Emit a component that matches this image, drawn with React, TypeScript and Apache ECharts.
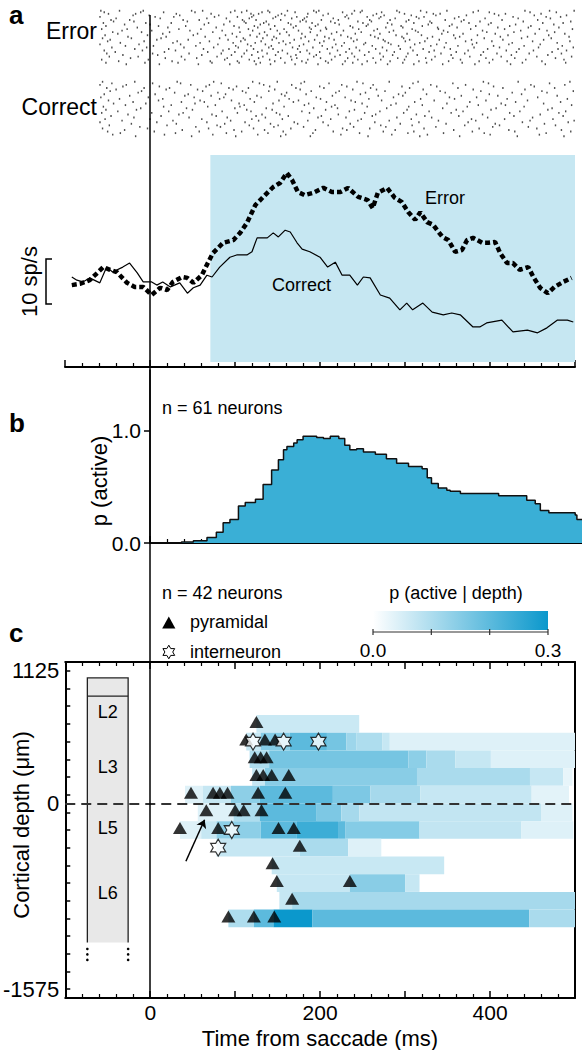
import React, { useEffect, useRef } from "react";
import * as echarts from "echarts";

const FONT = '"Liberation Sans", Arial, Helvetica, sans-serif';

// ---- Panel a: rasters (spike times in ms, one row per trial) ----
const errorTrials: number[][] = [
  [-59,-55,-37,-12,-9,15,48,52,61,94,99,107,113,131,138,140,161,170,192,195,198,226,240,247,249,272,290,293,318,325,349,380,386,399,441,447,470,478,499],
  [-50,-21,-18,-2,30,34,71,80,118,121,127,150,154,158,185,203,209,231,237,262,266,275,299,307,333,336,341,372,405,410,418,452,460,490],
  [-60,-41,5,11,27,66,75,89,102,116,119,144,147,166,172,181,184,215,229,233,255,269,271,288,313,316,322,358,363,394,427,433,466,471,483],
  [-47,-44,-25,-20,38,43,57,93,108,110,124,136,153,176,179,183,201,212,221,244,258,260,282,301,304,329,347,366,369,388,414,439,456,495],
  [-56,-31,-6,-1,24,63,68,86,112,129,133,139,162,165,190,197,217,222,250,256,279,284,310,327,331,355,375,398,401,430,462,475,486],
  [-53,-16,9,20,41,77,98,104,122,126,146,168,171,187,194,206,235,238,254,277,295,297,320,338,352,361,383,409,423,445,448,481],
  [-58,-34,-28,1,33,46,59,84,115,120,141,149,157,174,189,200,207,227,245,263,267,286,308,312,339,345,377,391,417,436,458,467,497],
  [-45,-39,-11,14,22,55,73,96,105,128,134,152,160,178,188,213,219,241,248,270,281,302,315,343,350,368,396,406,428,453,476,488],
  [-54,-27,-4,18,50,64,88,101,117,125,137,145,163,182,196,205,224,232,259,264,289,296,319,332,357,364,385,412,421,444,469,493],
  [-57,-48,-23,7,12,44,81,91,109,111,132,143,148,169,177,193,210,216,236,243,268,274,298,305,326,340,359,378,393,415,437,463,472],
  [-51,-36,-8,26,31,58,69,97,106,123,130,151,156,164,186,199,204,228,239,253,276,280,300,317,323,348,371,384,402,426,450,479,494],
  [-60,-30,-14,3,35,53,79,100,114,118,135,142,159,175,180,202,218,225,251,261,283,292,311,330,337,362,379,404,422,440,459,485],
  [-46,-19,-5,21,39,62,74,92,103,121,139,144,167,173,191,208,214,234,242,265,273,294,306,321,346,353,381,397,411,434,457,480,498],
  [-55,-42,-10,16,29,67,85,99,113,126,131,150,155,176,184,199,220,230,246,257,278,287,309,328,334,360,374,392,419,431,451,473,490],
  [-52,-33,2,8,45,60,83,95,110,119,137,147,161,171,187,195,211,223,237,252,270,285,303,314,342,354,370,389,408,425,446,468,484],
  [-49,-24,-15,17,36,54,78,90,107,127,132,153,165,172,192,200,217,232,240,262,274,291,301,324,335,356,376,395,413,429,455,477,496],
  [-58,-38,-3,25,40,70,87,102,116,122,140,146,166,178,185,206,213,229,244,255,271,282,299,316,331,351,365,387,403,420,442,461,487],
  [-53,-29,-7,10,32,56,72,93,104,124,129,141,158,170,183,197,209,226,238,249,265,279,297,310,325,344,367,382,399,424,438,465,489],
];
const correctTrials: number[][] = [
  [-57,-46,-19,2,31,35,74,83,120,128,149,177,181,210,243,250,281,309,315,356,392,398,433,470,494],
  [-60,-33,-29,10,47,65,69,101,133,140,166,199,225,231,262,296,330,337,371,404,448,452,488],
  [-52,-41,-8,18,22,55,92,97,115,146,171,176,204,238,259,266,305,321,362,380,415,441,476],
  [-48,-15,-11,28,61,79,108,112,139,160,189,218,222,253,276,300,341,347,389,426,461,467,498],
  [-55,-25,5,40,44,71,88,125,154,158,183,214,247,268,292,297,325,366,399,409,437,479],
  [-59,-37,-3,14,51,81,86,117,130,163,195,200,229,257,286,318,352,358,384,420,456,491],
  [-50,-21,9,36,58,63,95,122,151,168,174,207,236,241,272,311,334,376,395,430,444,483],
  [-44,-30,-6,24,52,76,104,110,144,181,186,217,249,283,289,320,349,386,413,418,463,496],
  [-56,-12,15,42,67,99,105,136,157,192,213,220,255,278,304,344,373,407,440,473],
  [-53,-39,-17,21,49,84,113,118,143,178,206,234,240,270,302,328,360,368,401,435,468,489],
  [-58,-27,1,33,38,72,102,131,148,152,187,221,252,265,298,313,354,391,423,459,481],
  [-47,-20,12,45,77,90,124,135,162,197,201,230,261,290,323,331,363,397,428,450,486],
  [-54,-34,-1,26,60,94,119,127,155,185,212,244,248,281,307,339,378,383,417,447,474,499],
  [-60,-23,7,30,66,87,111,141,169,173,203,235,264,294,316,348,374,406,438,464,492],
  [-49,-13,19,53,78,82,116,145,150,180,209,239,271,277,308,336,370,403,411,445,477],
  [-57,-31,-4,37,68,98,121,134,165,194,226,231,258,288,322,357,387,422,455,484],
  [-51,-36,4,29,57,89,107,138,156,191,215,246,274,303,310,345,379,393,429,466,495],
  [-45,-18,16,48,73,100,126,153,159,188,224,256,284,317,326,364,400,432,458,487],
];

// ---- Panel a: PSTH (time ms, rate sp/s) ----
const errorPsth = [
  [-92,18.2],[-82,18.5],[-71,19.3],[-62,20.9],[-55,22.2],[-47,21.6],[-39,21.1],[-27,18.7],[-18,17.8],[-8,17.8],
  [2,16.0],[12,17.6],[20,17.1],[27,18.9],[38,20.0],[44,19.8],[51,18.7],[61,20.4],[68,23.1],[74,25.3],
  [86,27.6],[98,28.2],[106,29.8],[114,32.0],[124,36.0],[138,38.7],[145,40.0],[153,40.9],[161,43.1],[167,41.6],
  [174,38.9],[182,38.2],[192,38.7],[204,39.8],[214,38.9],[224,38.9],[233,39.8],[245,37.8],[256,37.1],[262,35.3],
  [268,38.7],[279,39.8],[288,37.6],[296,36.7],[304,34.4],[312,32.7],[318,34.4],[326,32.2],[333,31.6],[344,28.9],
  [351,28.2],[359,25.6],[367,26.0],[373,28.2],[380,28.7],[391,27.6],[398,27.6],[406,27.8],[412,25.3],[420,23.1],
  [427,23.1],[435,21.6],[445,22.2],[451,20.0],[459,17.6],[468,16.4],[476,17.8],[486,18.9],[496,19.8],
];
const correctPsth = [
  [-92,20.0],[-86,19.3],[-79,18.9],[-71,19.8],[-59,18.7],[-51,22.2],[-44,21.1],[-32,22.2],[-24,23.1],[-15,20.9],
  [-8,18.9],[2,18.9],[8,18.2],[15,18.9],[24,17.8],[35,18.7],[44,16.4],[51,17.6],[59,18.2],[67,20.4],
  [73,20.0],[82,22.2],[94,24.4],[102,24.9],[114,24.9],[120,25.6],[126,28.7],[138,28.7],[145,29.8],[151,28.9],
  [159,30.4],[165,30.0],[173,27.6],[179,26.2],[188,25.6],[200,24.4],[209,22.2],[218,23.3],[226,20.4],[235,20.4],
  [244,18.2],[251,20.0],[259,19.8],[271,16.0],[282,15.3],[294,12.7],[302,14.2],[309,12.7],[321,14.2],[332,12.2],
  [345,11.6],[355,12.0],[365,11.6],[380,8.9],[388,8.9],[396,9.8],[414,10.4],[427,7.8],[444,8.2],[456,7.6],
  [467,8.7],[479,10.4],[491,10.4],[498,10.0],
];
const shadeWindow = [71, 500];
const scaleBar = [14, 24];

// ---- Panel b: p(active) ----
const pActive = [
  [0,0],[37,0],[37,0.01],[51,0.02],[67,0.05],[78,0.095],[86,0.18],[94,0.21],[104,0.33],[112,0.36],
  [124,0.39],[133,0.52],[143,0.65],[151,0.74],[157,0.83],[161,0.86],[169,0.89],[173,0.92],[180,0.95],[196,0.94],
  [204,0.93],[212,0.95],[222,0.93],[229,0.87],[235,0.83],[243,0.84],[251,0.81],[265,0.79],[278,0.75],[290,0.71],
  [304,0.68],[320,0.66],[326,0.58],[331,0.53],[339,0.49],[349,0.47],[353,0.46],[365,0.44],[408,0.44],[410,0.42],
  [437,0.42],[443,0.38],[453,0.35],[459,0.29],[469,0.27],[494,0.27],[500,0.25],[502,0.21],[508,0.21],
];

// ---- Panel c: p(active | depth) segments [tStart, tEnd, depthCenter, value] ----
const heatSegments = [
  [125,246,675,0.065],
  [113,130,525,0.07],[130,164,525,0.15],[164,208,525,0.2],[208,231,525,0.17],[231,243,525,0.12],[243,273,525,0.1],[273,282,525,0.07],[282,500,525,0.04],
  [117,140,375,0.1],[140,304,375,0.168],[304,325,375,0.14],[325,359,375,0.105],[359,401,375,0.07],[401,500,375,0.04],
  [120,135,225,0.07],[135,314,225,0.145],[314,447,225,0.105],[447,486,225,0.07],[486,497,225,0.03],
  [41,62,75,0.04],[62,95,75,0.07],[95,129,75,0.14],[129,215,75,0.2],[215,259,75,0.16],[259,318,75,0.11],[318,449,75,0.07],[449,493,75,0.035],
  [56,98,-75,0.04],[98,129,-75,0.1],[129,196,-75,0.2],[196,225,-75,0.16],[225,246,-75,0.11],[246,460,-75,0.075],[460,497,-75,0.04],
  [35,60,-225,0.04],[60,78,-225,0.07],[78,130,-225,0.14],[130,172,-225,0.2],[172,222,-225,0.24],[222,230,-225,0.2],[230,317,-225,0.15],[317,437,-225,0.075],[437,498,-225,0.04],
  [78,176,-375,0.07],[176,233,-375,0.105],[233,272,-375,0.04],
  [143,346,-525,0.068],
  [149,235,-675,0.07],[235,300,-675,0.145],[300,317,-675,0.07],
  [152,167,-825,0.07],[167,500,-825,0.11],
  [92,122,-975,0.1],[122,145,-975,0.2],[145,191,-975,0.3],[191,446,-975,0.2],[446,500,-975,0.105],
];
const binHalf = 75;
const pyramidal = [
  [125,675],[113,525],[135,525],[147,525],[123,375],[130,375],[137,375],[125,225],[133,225],[143,225],[163,225],
  [48,75],[74,75],[82,75],[91,75],[127,75],[159,75],[66,-75],[100,-75],[110,-75],[131,-75],
  [35,-225],[80,-225],[151,-225],[169,-225],[176,-375],[144,-525],[149,-675],[235,-675],[167,-825],
  [92,-975],[122,-975],[146,-975],
];
const interneuron = [[121,525],[157,525],[198,525],[96,-225],[80,-375]];
const arrowPath = [[42,-490],[64,-138]];
const depthTicks = [-1575,-1425,-1275,-1125,-975,-825,-675,-525,-375,-225,-75,75,225,375,525,675,825,975,1125];
const depthLabels = [1125, 0, -1575];
const timeLabels = [0, 200, 400];
const layerBoxTime = [-74, -26];
const layerBounds = [1065, 911, -1180];
const layerNames = ["L2", "L3", "L5", "L6"];
const layerLabelDepths = [776, 310, -208, -759];
const layerDotDepths = [-1234, -1280, -1327];
const colorbarTicks = [0, 0.1, 0.2, 0.3];
const colorbarLabels = ["0.0", "0.3"];

const STAR = "path://M10,0L12.885,5L18.66,5L15.77,10L18.66,15L12.885,15L10,20L7.115,15L1.34,15L4.23,10L1.34,5L7.115,5Z";
const starPts = [[0,-10],[2.885,-5],[8.66,-5],[5.77,0],[8.66,5],[2.885,5],[0,10],[-2.885,5],[-8.66,5],[-5.77,0],[-8.66,-5],[-2.885,-5]];
const HEAT_MAX_COLOR = "#0b98cc";

function timeAxis(grid: number, min: number, max: number, extra: any = {}) {
  return {
    type: "value", gridIndex: grid, min, max, interval: 100,
    axisLine: { show: true, onZero: false, lineStyle: { color: "#000", width: 2 } },
    axisTick: { show: true, inside: true, length: 7, lineStyle: { color: "#000", width: 1.5 } },
    minorTick: { show: true, splitNumber: 5, length: 4, lineStyle: { color: "#000", width: 1.2 } },
    axisLabel: { show: false },
    splitLine: { show: false }, minorSplitLine: { show: false },
    ...extra,
  };
}

// two interleaved display rows per trial (alternate spikes), as in a dense raster
function rasterPoints(trials: number[][]) {
  return trials.flatMap((row, i) => row.map((t, j) => [t, 2 * i + (j % 2) + 0.5]));
}

export default function App() {
  const ref = useRef<HTMLDivElement>(null);
  useEffect(() => {
    document.body.style.margin = "0";
    const chart = echarts.init(ref.current!, null, { renderer: "svg" });
    const hidden = (grid: number, min: number, max: number, inverse = false) => ({
      type: "value", gridIndex: grid, min, max, inverse, show: false,
    });
    const option: any = {
      animation: false,
      grid: [
        { left: 100, top: 10, width: 475, height: 55 },
        { left: 100, top: 81, width: 475, height: 56 },
        { left: 65, top: 155, width: 510, height: 212 },
        { left: 150, top: 370, width: 432, height: 173 },
        { left: 65, top: 662, width: 510, height: 336 },
      ],
      xAxis: [
        hidden(0, -60, 500),
        hidden(1, -60, 500),
        timeAxis(2, -100, 500),
        timeAxis(3, 0, 508),
        timeAxis(4, -100, 500, {
          position: "bottom",
          axisLabel: { show: true, customValues: timeLabels, formatter: (v: number) => String(v), align: "center", fontSize: 21, color: "#000", fontFamily: FONT, margin: 4 },
        }),
        timeAxis(4, -100, 500, { position: "top" }),
      ],
      yAxis: [
        hidden(0, 0, 36, true),
        hidden(1, 0, 36, true),
        hidden(2, 0, 47.11),
        {
          type: "value", gridIndex: 3, min: 0, max: 1.54,
          axisLine: { show: true, onZero: false, lineStyle: { color: "#000", width: 1.5 } },
          axisTick: { show: true, inside: false, length: 6, customValues: [0, 1], lineStyle: { color: "#000", width: 1.5 } },
          axisLabel: { show: true, customValues: [0, 1], formatter: (v: number) => v.toFixed(1), fontSize: 21, color: "#000", fontFamily: FONT, margin: 9 },
          splitLine: { show: false },
        },
        {
          type: "value", gridIndex: 4, min: -1650, max: 1200, position: "left",
          axisLine: { show: true, onZero: false, lineStyle: { color: "#000", width: 2 } },
          axisTick: { show: true, inside: true, length: 5, customValues: depthTicks, lineStyle: { color: "#000", width: 1.5 } },
          axisLabel: { show: true, customValues: depthLabels, formatter: (v: number) => String(v), fontSize: 22, color: "#000", fontFamily: FONT, margin: 6 },
          splitLine: { show: false },
        },
        {
          type: "value", gridIndex: 4, min: -1650, max: 1200, position: "right",
          axisLine: { show: true, onZero: false, lineStyle: { color: "#000", width: 2 } },
          axisTick: { show: false }, axisLabel: { show: false }, splitLine: { show: false },
        },
      ],
      visualMap: {
        type: "continuous", show: false, min: 0, max: 0.3, dimension: 3, seriesIndex: 6,
        inRange: { color: ["#ffffff", HEAT_MAX_COLOR] },
      },
      series: [
        {
          type: "scatter", xAxisIndex: 0, yAxisIndex: 0, symbol: "rect", symbolSize: [1.4, 1.9],
          itemStyle: { color: "#222" }, silent: true,
          data: rasterPoints(errorTrials),
        },
        {
          type: "scatter", xAxisIndex: 1, yAxisIndex: 1, symbol: "rect", symbolSize: [1.4, 1.9],
          itemStyle: { color: "#222" }, silent: true,
          data: rasterPoints(correctTrials),
        },
        {
          type: "custom", xAxisIndex: 2, yAxisIndex: 2, z: 1, silent: true,
          data: [shadeWindow],
          renderItem: (params: any, api: any) => {
            const p0 = api.coord([api.value(0), 47.11]);
            const p1 = api.coord([api.value(1), 1.1]);
            return { type: "rect", shape: { x: p0[0], y: p0[1], width: p1[0] - p0[0], height: p1[1] - p0[1] }, style: { fill: "#c6e7f2" } };
          },
        },
        {
          type: "line", xAxisIndex: 2, yAxisIndex: 2, data: correctPsth, showSymbol: false, z: 3,
          lineStyle: { color: "#000", width: 1.2 },
        },
        {
          type: "line", xAxisIndex: 2, yAxisIndex: 2, data: errorPsth, showSymbol: false, z: 4,
          lineStyle: { color: "#000", width: 4.5, type: [5, 3] },
        },
        {
          type: "line", xAxisIndex: 3, yAxisIndex: 3, data: pActive, showSymbol: false, step: "end",
          lineStyle: { color: "#111", width: 1.5 },
          areaStyle: { color: "#3aafd6", opacity: 1 },
        },
        {
          type: "custom", xAxisIndex: 4, yAxisIndex: 4, z: 1, clip: true,
          encode: { x: [0, 1], y: 2 },
          data: heatSegments,
          renderItem: (params: any, api: any) => {
            const p0 = api.coord([api.value(0), api.value(2) + binHalf]);
            const p1 = api.coord([api.value(1), api.value(2) - binHalf]);
            return {
              type: "rect",
              shape: { x: p0[0], y: p0[1], width: p1[0] - p0[0], height: p1[1] - p0[1] },
              style: { fill: api.visual("color") },
            };
          },
        },
        {
          type: "custom", xAxisIndex: 4, yAxisIndex: 4, z: 2, silent: true,
          data: [layerBoxTime],
          renderItem: (params: any, api: any) => {
            const xl = api.coord([api.value(0), 0])[0];
            const xr = api.coord([api.value(1), 0])[0];
            const yt = api.coord([0, layerBounds[0]])[1];
            const ysep = api.coord([0, layerBounds[1]])[1];
            const yb = api.coord([0, layerBounds[2]])[1];
            const xm = (xl + xr) / 2;
            const children: any[] = [
              { type: "rect", shape: { x: xl, y: yt, width: xr - xl, height: yb - yt }, style: { fill: "#e8e8e8" } },
              { type: "polyline", shape: { points: [[xl, yb], [xl, yt], [xr, yt], [xr, yb]] }, style: { stroke: "#222", lineWidth: 1.3, fill: null } },
              { type: "line", shape: { x1: xl, y1: ysep, x2: xr, y2: ysep }, style: { stroke: "#222", lineWidth: 1.3 } },
            ];
            layerNames.forEach((n, i) => {
              const y = api.coord([0, layerLabelDepths[i]])[1];
              children.push({ type: "text", x: xm, y, style: { text: n, fontSize: 18, fontFamily: FONT, fill: "#000", align: "center", verticalAlign: "middle" } });
            });
            layerDotDepths.forEach((d) => {
              const y = api.coord([0, d])[1];
              children.push({ type: "circle", shape: { cx: xl, cy: y, r: 1.3 }, style: { fill: "#000" } });
              children.push({ type: "circle", shape: { cx: xr, cy: y, r: 1.3 }, style: { fill: "#000" } });
            });
            return { type: "group", children };
          },
        },
        {
          type: "scatter", xAxisIndex: 4, yAxisIndex: 4, z: 5, data: pyramidal,
          symbol: "triangle", symbolSize: [14, 12], symbolOffset: [0, -2], itemStyle: { color: "#000" },
          markLine: {
            silent: true, symbol: "none", label: { show: false },
            lineStyle: { color: "#333", width: 2, type: [10, 6] },
            data: [{ yAxis: 0 }],
          },
        },
        {
          type: "scatter", xAxisIndex: 4, yAxisIndex: 4, z: 6, data: interneuron,
          symbol: STAR, symbolSize: [15, 17], itemStyle: { color: "#fff", borderColor: "#000", borderWidth: 1.2 },
        },
        {
          type: "lines", coordinateSystem: "cartesian2d", xAxisIndex: 4, yAxisIndex: 4, z: 6,
          symbol: ["none", "arrow"], symbolSize: 8,
          lineStyle: { color: "#000", width: 1.5, opacity: 1 },
          data: [{ coords: arrowPath }],
        },
      ],
    };
    chart.setOption(option);

    const x0 = chart.convertToPixel({ xAxisIndex: 2 }, 0) as number;
    const sbTop = chart.convertToPixel({ yAxisIndex: 2 }, scaleBar[1]) as number;
    const sbBot = chart.convertToPixel({ yAxisIndex: 2 }, scaleBar[0]) as number;
    const txt = (x: number, y: number, s: string, size: number, extra: any = {}, rot = 0) => ({
      type: "text", x, y, rotation: rot, z: 100,
      style: { text: s, fontSize: size, fontFamily: FONT, fill: "#000", align: "left", verticalAlign: "middle", ...extra },
    });
    const cbX0 = 373, cbW = 175, cbY = 611, cbH = 19;
    const cbx = (v: number) => cbX0 + (v / 0.3) * cbW;
    const elements: any[] = [
      { type: "line", z: 50, shape: { x1: x0, y1: 15, x2: x0, y2: 998 }, style: { stroke: "#000", lineWidth: 1.5 } },
      txt(9, 15, "a", 26, { fontWeight: "bold" }),
      txt(9, 423, "b", 26, { fontWeight: "bold" }),
      txt(9, 633, "c", 26, { fontWeight: "bold" }),
      txt(97, 31, "Error", 23, { align: "right" }),
      txt(97, 107, "Correct", 23, { align: "right" }),
      txt(425, 198, "Error", 18),
      txt(272, 285, "Correct", 18),
      { type: "polyline", z: 50, shape: { points: [[52, sbTop], [46, sbTop], [46, sbBot], [52, sbBot]] }, style: { stroke: "#000", lineWidth: 1.5, fill: null } },
      txt(29, (sbTop + sbBot) / 2, "10 sp/s", 22, { align: "center" }, Math.PI / 2),
      txt(99, 481, "p (active)", 22, { align: "center" }, Math.PI / 2),
      txt(162, 408, "n = 61 neurons", 18),
      txt(162, 593, "n = 42 neurons", 18),
      { type: "polygon", z: 50, shape: { points: [[168.8, 616.5], [162.2, 628.5], [175.4, 628.5]] }, style: { fill: "#000" } },
      txt(190, 622, "pyramidal", 18),
      { type: "polygon", z: 50, shape: { points: starPts.map((p) => [168.8 + p[0] * 0.68, 652 + p[1] * 0.68]) }, style: { fill: "#fff", stroke: "#000", lineWidth: 1 } },
      txt(190, 652, "interneuron", 18),
      txt(456, 593, "p (active | depth)", 18, { align: "center" }),
      {
        type: "rect", z: 50, shape: { x: cbX0, y: cbY, width: cbW, height: cbH },
        style: { fill: new echarts.graphic.LinearGradient(0, 0, 1, 0, [{ offset: 0, color: "#ffffff" }, { offset: 1, color: HEAT_MAX_COLOR }]) },
      },
      { type: "line", z: 50, shape: { x1: cbX0, y1: cbY + cbH + 2, x2: cbX0 + cbW, y2: cbY + cbH + 2 }, style: { stroke: "#333", lineWidth: 1.2 } },
      ...colorbarTicks.map((v) => ({ type: "line", z: 50, shape: { x1: cbx(v), y1: cbY + cbH - 1, x2: cbx(v), y2: cbY + cbH + 5 }, style: { stroke: "#333", lineWidth: 1.2 } })),
      txt(cbx(0), 650, colorbarLabels[0], 19, { align: "center" }),
      txt(cbx(0.3), 650, colorbarLabels[1], 19, { align: "center" }),
      txt(21, 825, "Cortical depth (μm)", 22, { align: "center" }, Math.PI / 2),
      txt(320, 1038, "Time from saccade (ms)", 22, { align: "center" }),
    ];
    chart.setOption({ graphic: { elements } });
    return () => chart.dispose();
  }, []);
  return <div ref={ref} style={{ position: "absolute", left: 0, top: 0, width: 582, height: 1050 }} />;
}
